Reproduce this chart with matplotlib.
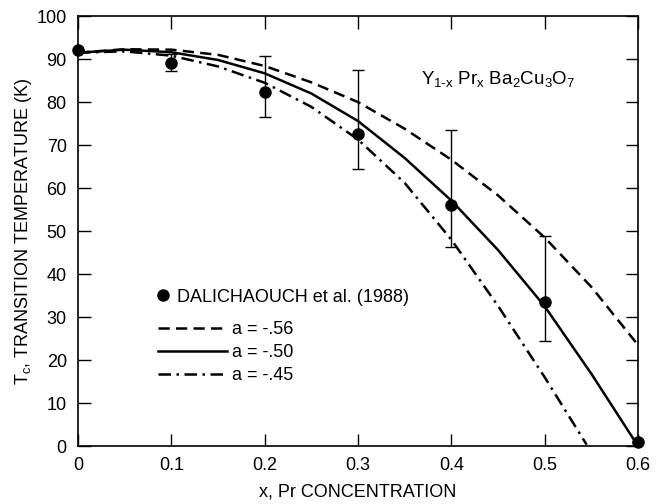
import numpy as np
import matplotlib
matplotlib.use("Agg")
import matplotlib.pyplot as plt
from matplotlib.lines import Line2D

plt.rcParams.update({'font.family': ['Liberation Sans', 'DejaVu Sans'], 'font.size': 13})

# measured points (Dalichaouch et al. 1988)
x_data = [0.0, 0.1, 0.2, 0.3, 0.4, 0.5, 0.6]
tc_data = [92.1, 89.0, 82.3, 72.5, 56.0, 33.6, 1.0]
tc_low = [92.1, 87.2, 76.6, 64.5, 46.4, 24.5, 1.0]
tc_high = [92.1, 91.3, 90.8, 87.5, 73.5, 48.8, 1.0]

# model curves
x_curve = [0.0, 0.05, 0.1, 0.15, 0.2, 0.25, 0.3, 0.35, 0.4, 0.45, 0.5, 0.55, 0.6]
tc_a056 = [91.5, 92.3, 92.2, 91.0, 88.4, 84.6, 80.0, 73.8, 66.6, 58.3, 48.5, 37.0, 23.5]
tc_a050 = [91.5, 92.2, 91.6, 89.8, 86.7, 82.0, 75.6, 67.0, 57.1, 45.6, 32.5, 16.8, 0.0]
x_curve45 = [0.0, 0.05, 0.1, 0.15, 0.2, 0.25, 0.3, 0.35, 0.4, 0.45, 0.5, 0.545]
tc_a045 = [91.5, 91.8, 90.8, 88.3, 84.5, 78.9, 71.3, 61.2, 48.0, 32.6, 16.0, 0.3]

fig = plt.figure(figsize=(6.62, 5.04), dpi=100)
ax = fig.add_axes([0.1178, 0.115, 0.846, 0.853])

lw = 1.8
ax.plot(x_curve, tc_a056, color='k', lw=lw, dashes=(4.5, 2.5), label='a = -.56')
ax.plot(x_curve, tc_a050, color='k', lw=lw, label='a = -.50')
ax.plot(x_curve45, tc_a045, color='k', lw=lw, dashes=(5, 2.2, 1, 2.2), label='a = -.45')

yerr = [np.subtract(tc_data, tc_low), np.subtract(tc_high, tc_data)]
eb = ax.errorbar(x_data, tc_data, yerr=yerr, fmt='o', color='k', ms=8,
                 elinewidth=1.0, capsize=4, capthick=1.0, zorder=5)
eb[0].set_clip_on(False)

ax.set_xlim(0, 0.6)
ax.set_ylim(0, 100)
ax.set_xticks(np.arange(0, 0.61, 0.1))
ax.set_xticklabels(['0', '0.1', '0.2', '0.3', '0.4', '0.5', '0.6'])
ax.set_yticks(range(0, 101, 10))
ax.tick_params(direction='in', length=9, width=1, top=True, right=True, labelsize=13, pad=8)
for s in ax.spines.values():
    s.set_linewidth(1.2)

ax.set_xlabel('x, Pr CONCENTRATION', fontsize=13, labelpad=7)
ax.set_ylabel('T$_\\mathregular{c}$, TRANSITION TEMPERATURE (K)', fontsize=13, labelpad=2)

ax.text(0.6125, 0.851, 'Y$_\\mathregular{1\u2010x}$ Pr$_\\mathregular{x}$ Ba$_\\mathregular{2}$Cu$_\\mathregular{3}$O$_\\mathregular{7}$',
        transform=ax.transAxes, ha='left', va='center', fontsize=13.5)

pt_handle = Line2D([], [], marker='o', ls='none', color='k', ms=8)
leg1 = ax.legend([pt_handle], ['DALICHAOUCH et al. (1988)'], loc='upper left',
                 bbox_to_anchor=(0.136, 0.366), frameon=False, borderpad=0, borderaxespad=0,
                 handlelength=1.0, handletextpad=0.28, fontsize=13)
ax.add_artist(leg1)
ax.legend(loc='upper left', bbox_to_anchor=(0.143, 0.291), frameon=False, borderpad=0,
          borderaxespad=0, handlelength=3.8, handletextpad=0.28, labelspacing=0.33, fontsize=13)

fig.savefig('out.png', dpi=100)
